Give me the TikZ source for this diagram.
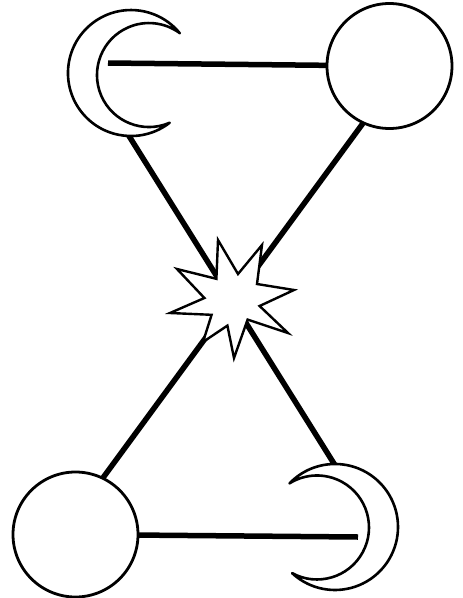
\documentclass[tikz,border=0pt]{standalone}
\usetikzlibrary{calc}
\pgfdeclarelayer{bg}
\pgfsetlayers{bg,main}
\begin{document}
\begin{tikzpicture}[x=1pt,y=-1pt]
\tikzset{
  ball/.style={circle, draw, fill=white, line width=2.8pt, minimum size=125pt, inner sep=0pt},
  moon/.style={draw, fill=white, line width=2.6pt, line join=round},
  bar/.style={line width=5.5pt},
  burst/.style={draw, fill=white, line width=2.4pt, line join=miter, miter limit=20},
}
\useasboundingbox (0,0) rectangle (463,598);

% full circles
\node[ball] (trc) at (389.5,66) {};
\node[ball] (blc) at (75.5,534.5) {};

% crescents
\coordinate (tlm) at (131,73);
\coordinate (brm) at (335,527);
\draw[moon] (179.7,33.1) arc[start angle=-39.33, end angle=-307.91, radius=63]
  arc[start angle=66.54, end angle=306.23, radius=52] -- cycle;
\draw[moon] (289.6,483.3) arc[start angle=-136.1, end angle=132.9, radius=63]
  arc[start angle=118.6, end angle=-121.8, radius=52] -- cycle;

% connector end points
\coordinate (tlin) at (108,63);
\coordinate (tlb) at (124,128);
\coordinate (brt) at (338,470);
\coordinate (brin) at (358,537);

\begin{pgfonlayer}{bg}
  \draw[bar] (tlin) -- (trc.center);
  \draw[bar] (blc.center) -- (brin);
  \draw[bar] (tlb) -- (brt);
  \draw[bar, shorten <=-6pt, shorten >=-6pt] (trc.-115) -- (blc.64);
\end{pgfonlayer}

% burst
\coordinate (bang) at (232,298);
\draw[burst] (218,240) -- (238,274) -- (262,245) -- (257,284) -- (294,290) -- (259.6,306)
  -- (288,333) -- (247.6,319.6) -- (234,358) -- (227.4,325.6) -- (203,342) -- (211.6,314.8)
  -- (170,313) -- (204.4,298) -- (177,269) -- (216.4,278.8) -- cycle;
\end{tikzpicture}
\end{document}
